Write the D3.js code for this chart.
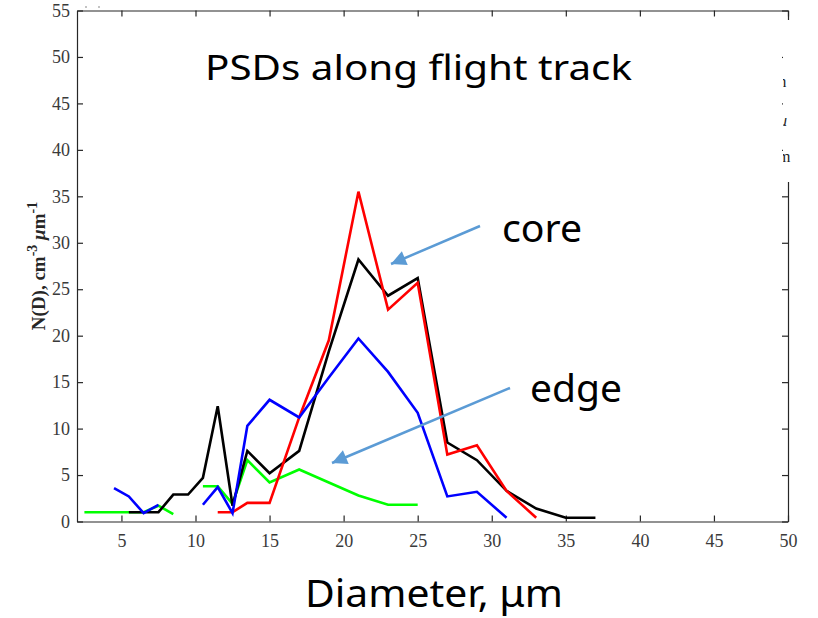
<!DOCTYPE html>
<html>
<head>
<meta charset="utf-8">
<script src="https://cdn.jsdelivr.net/npm/d3@7/dist/d3.min.js"></script>
<style>
  html, body { margin: 0; padding: 0; background: #fff; }
  svg { display: block; }
</style>
</head>
<body>
<svg id="chart" width="818" height="618"></svg>
<script>
// ---- data ----
const diameters = [2.5, 3.5, 4.5, 5.5, 6.5, 7.5, 8.5, 9.5, 10.5, 11.5, 12.5, 13.5, 15, 17, 19, 21, 23, 25, 27, 29, 31, 33, 35, 37];
const greenSeries = [1, 1, 1, 1, 1, 1.7, 0.8, null, 3.8, 3.8, 1.9, 6.6, 4.2, 5.6, 4.2, 2.8, 1.8, 1.8, null, null, null, null, null, null];
const blackSeries = [null, null, null, 1, 1, 1, 2.9, 2.9, 4.7, 12.4, 1.7, 7.6, 5.2, 7.6, 18.3, 28.2, 24.3, 26.2, 8.5, 6.6, 3.3, 1.4, 0.4, 0.4];
const redSeries   = [null, null, null, null, null, null, null, null, null, 1, 1, 2, 2, 11.2, 19.5, 35.5, 22.8, 25.7, 7.2, 8.2, 3.3, 0.4, null, null];
const blueSeries  = [null, null, 3.6, 2.7, 0.9, 1.8, null, null, 1.8, 3.7, 0.9, 10.3, 13.1, 11.2, 15.5, 19.7, 16.1, 11.7, 2.7, 3.2, 0.4, null, null, null];
const xTicks = [5, 10, 15, 20, 25, 30, 35, 40, 45, 50];
const yTicks = [0, 5, 10, 15, 20, 25, 30, 35, 40, 45, 50, 55];

const svg = d3.select("#chart");
const L = 77, R = 788, T = 10.5, B = 521.5;
const x = d3.scaleLinear().domain([2, 50]).range([L, R]);
const y = d3.scaleLinear().domain([0, 55]).range([B, T]);

const axisColor = "#262626";
const tickFont = "'Liberation Serif', 'Times New Roman', serif";

function styleAxis(g) {
  g.selectAll("path.domain").attr("stroke", axisColor).attr("stroke-width", 1.2);
  g.selectAll(".tick line").attr("stroke", axisColor).attr("stroke-width", 1.2);
  g.selectAll(".tick text").attr("fill", "#3a3a3a").attr("font-family", tickFont).attr("font-size", 18);
}

svg.append("g").attr("transform", `translate(0,${B})`)
  .call(d3.axisBottom(x).tickValues(xTicks).tickSize(-6).tickSizeOuter(0).tickPadding(12.5))
  .call(styleAxis);
svg.append("g").attr("transform", `translate(0,${T})`)
  .call(d3.axisTop(x).tickValues(xTicks).tickSize(-6).tickSizeOuter(0).tickFormat(""))
  .call(styleAxis);
svg.append("g").attr("transform", `translate(${L},0)`)
  .call(d3.axisLeft(y).tickValues(yTicks).tickSize(-6).tickSizeOuter(0).tickPadding(7))
  .call(styleAxis);
svg.append("g").attr("transform", `translate(${R},0)`)
  .call(d3.axisRight(y).tickValues(yTicks).tickSize(-6).tickSizeOuter(0).tickFormat(""))
  .call(styleAxis);

// white patch hiding part of the right frame (clipped legend)
svg.append("rect").attr("x", 783).attr("y", 20).attr("width", 10).attr("height", 162).attr("fill", "#fff");

// clipped legend fragments
const clip = svg.append("clipPath").attr("id", "legclip");
clip.append("rect").attr("x", 783).attr("y", 60).attr("width", 10).attr("height", 120);
const frag = svg.append("g").attr("clip-path", "url(#legclip)")
  .attr("font-family", tickFont).attr("font-size", 16).attr("fill", "#222");
frag.append("text").attr("x", 774).attr("y", 87).text("m");
frag.append("text").attr("x", 779).attr("y", 126).attr("font-style", "italic").text("μ");
frag.append("text").attr("x", 778).attr("y", 162).text("m");

// tiny dots top-left
svg.append("circle").attr("cx", 86).attr("cy", 7).attr("r", 0.8).attr("fill", "#777");
svg.append("circle").attr("cx", 99).attr("cy", 7).attr("r", 0.8).attr("fill", "#777");

// series lines
const line = d3.line()
  .defined(d => d[1] !== null)
  .x(d => x(d[0]))
  .y(d => y(d[1]));
const series = [
  { vals: greenSeries, color: "#00ff00" },
  { vals: blackSeries, color: "#000000" },
  { vals: redSeries,   color: "#ff0000" },
  { vals: blueSeries,  color: "#0000ff" }
];
series.forEach(s => {
  svg.append("path")
    .datum(diameters.map((d, i) => [d, s.vals[i]]))
    .attr("fill", "none")
    .attr("stroke", s.color)
    .attr("stroke-width", 2.6)
    .attr("stroke-linejoin", "miter")
    .attr("d", line);
});

// y label
const yl = svg.append("text")
  .attr("transform", "rotate(-90)")
  .attr("x", -266).attr("y", 45)
  .attr("text-anchor", "middle")
  .attr("font-family", tickFont)
  .attr("font-weight", "bold")
  .attr("font-size", 19)
  .attr("fill", "#262626");
yl.append("tspan").text("N(D), cm");
yl.append("tspan").attr("dy", -8).attr("font-size", 14).text("-3");
yl.append("tspan").attr("dy", 8).text(" ");
yl.append("tspan").attr("font-style", "italic").text("μ");
yl.append("tspan").text("m");
yl.append("tspan").attr("dy", -8).attr("font-size", 14).text("-1");

// annotations
const sans = "'Noto Sans', 'Open Sans', sans-serif";
function label(txt, x0, x1, base, size) {
  svg.append("text")
    .attr("x", x0).attr("y", base)
    .attr("font-family", sans).attr("font-size", size).attr("fill", "#000")
    .attr("textLength", x1 - x0).attr("lengthAdjust", "spacingAndGlyphs")
    .text(txt);
}
label("PSDs along flight track", 205, 632, 80, 35);
label("core", 502, 582, 242, 39);
label("edge", 530, 622, 402, 39);
label("Diameter, μm", 305, 563, 607, 38);

// arrows
const arrowColor = "#5b9bd5";
svg.append("defs").append("marker")
  .attr("id", "ah").attr("viewBox", "0 0 10 10")
  .attr("refX", 10).attr("refY", 5)
  .attr("markerWidth", 7).attr("markerHeight", 6)
  .attr("markerUnits", "strokeWidth")
  .attr("orient", "auto")
  .append("path").attr("d", "M0,0 L10,5 L0,10 Z").attr("fill", arrowColor);
const arrows = [
  [480, 226, 391, 264],
  [510, 388, 332, 463]
];
arrows.forEach(a => {
  svg.append("line")
    .attr("x1", a[0]).attr("y1", a[1]).attr("x2", a[2]).attr("y2", a[3])
    .attr("stroke", arrowColor).attr("stroke-width", 2.5)
    .attr("marker-end", "url(#ah)");
});
</script>
</body>
</html>
